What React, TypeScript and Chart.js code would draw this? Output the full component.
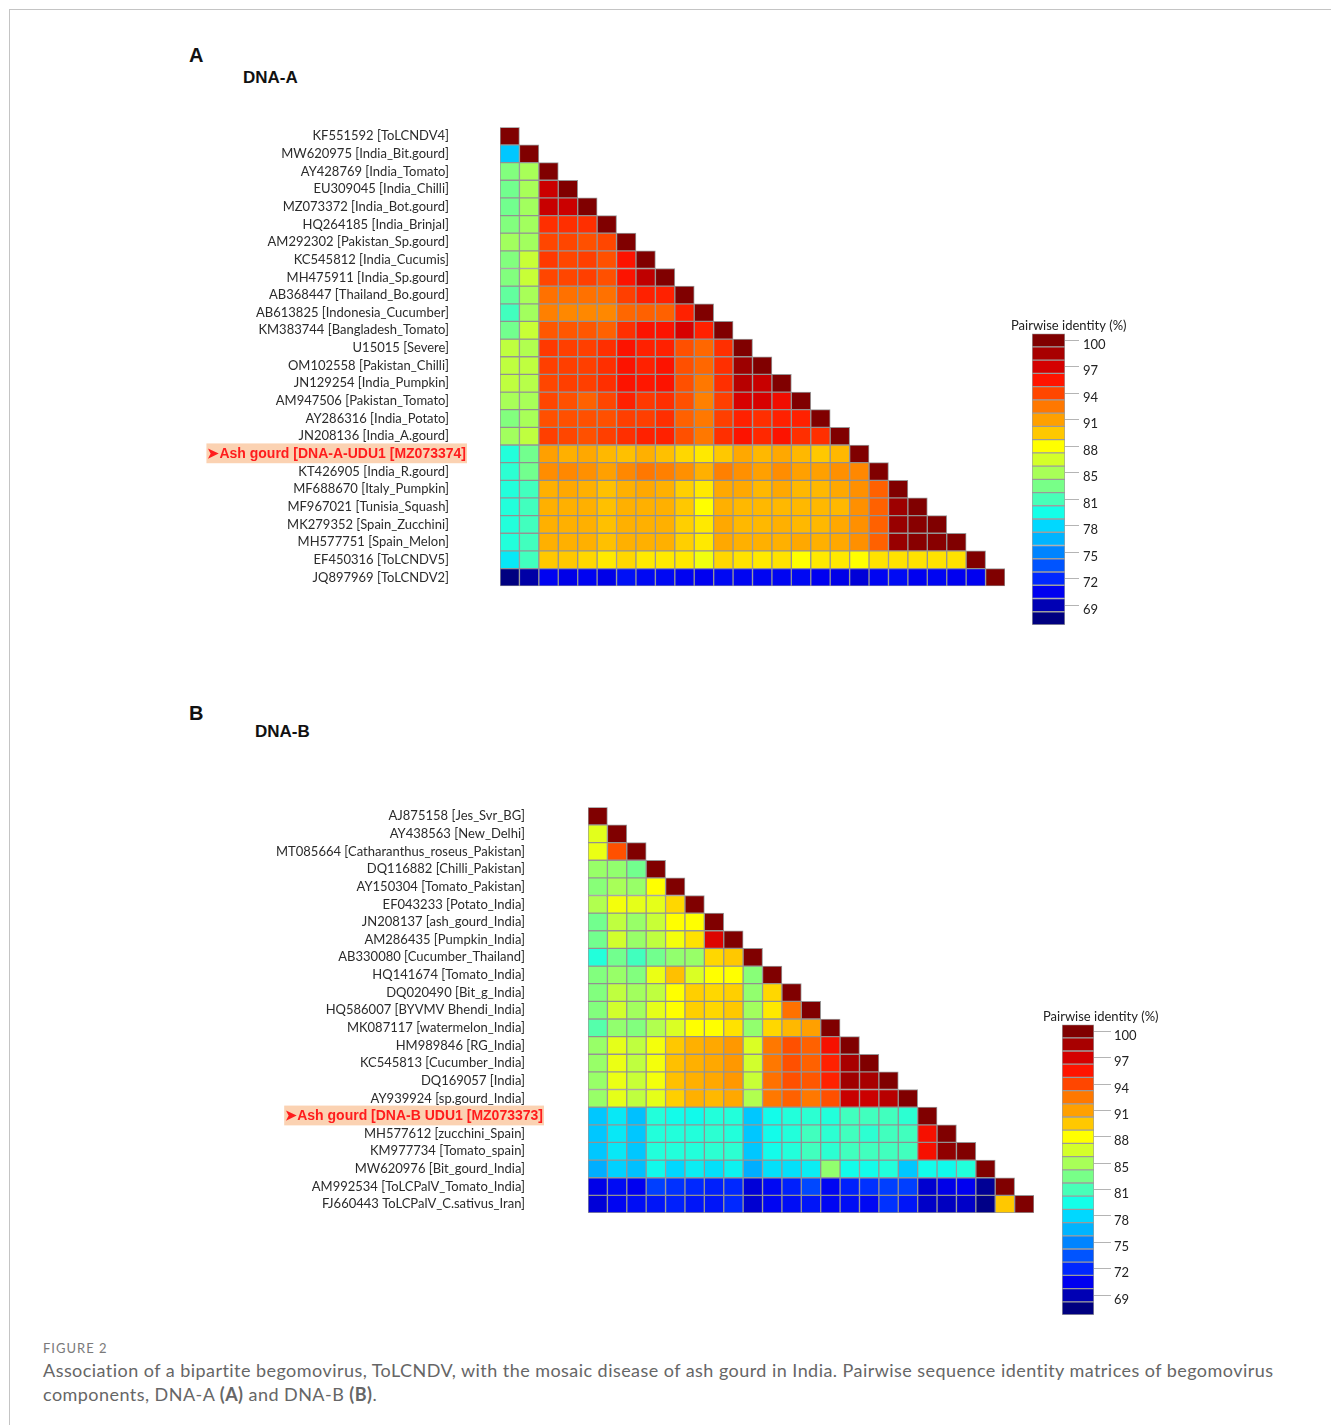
import React, { useEffect, useRef } from "react";
import { Chart, registerables } from "chart.js";
Chart.register(...registerables);

// ---------- DATA ----------
const labelsA = [
  "KF551592 [ToLCNDV4]",
  "MW620975 [India_Bit.gourd]",
  "AY428769 [India_Tomato]",
  "EU309045 [India_Chilli]",
  "MZ073372 [India_Bot.gourd]",
  "HQ264185 [India_Brinjal]",
  "AM292302 [Pakistan_Sp.gourd]",
  "KC545812 [India_Cucumis]",
  "MH475911 [India_Sp.gourd]",
  "AB368447 [Thailand_Bo.gourd]",
  "AB613825 [Indonesia_Cucumber]",
  "KM383744 [Bangladesh_Tomato]",
  "U15015 [Severe]",
  "OM102558 [Pakistan_Chilli]",
  "JN129254 [India_Pumpkin]",
  "AM947506 [Pakistan_Tomato]",
  "AY286316 [India_Potato]",
  "JN208136 [India_A.gourd]",
  "\u27A4Ash gourd [DNA-A-UDU1 [MZ073374]",
  "KT426905 [India_R.gourd]",
  "MF688670 [Italy_Pumpkin]",
  "MF967021 [Tunisia_Squash]",
  "MK279352 [Spain_Zucchini]",
  "MH577751 [Spain_Melon]",
  "EF450316 [ToLCNDV5]",
  "JQ897969 [ToLCNDV2]",
];
const highlightA = 18;

const identityA: number[][] = [
  [100],
  [78.3, 100],
  [83.8, 85.0, 100],
  [83.3, 85.0, 97.3, 100],
  [83.3, 84.8, 97.4, 97.3, 100],
  [83.8, 84.8, 94.7, 94.7, 94.7, 100],
  [84.8, 84.8, 94.0, 94.0, 93.7, 94.0, 100],
  [83.8, 86.1, 94.4, 94.0, 94.2, 93.7, 95.6, 100],
  [83.8, 86.1, 94.0, 94.0, 94.2, 93.7, 95.6, 97.7, 100],
  [82.8, 85.0, 92.7, 92.7, 92.7, 92.7, 94.2, 95.1, 95.1, 100],
  [81.8, 84.8, 92.2, 91.9, 91.9, 91.9, 93.0, 93.2, 93.2, 95.1, 100],
  [83.3, 86.1, 93.5, 93.5, 93.5, 93.2, 94.7, 95.6, 95.6, 96.9, 95.1, 100],
  [85.8, 85.3, 94.4, 94.2, 94.2, 94.7, 95.6, 95.1, 95.1, 93.7, 93.0, 94.7, 100],
  [85.8, 85.8, 94.2, 94.2, 94.2, 94.7, 95.6, 95.1, 95.6, 93.7, 93.0, 94.7, 98.9, 100],
  [85.8, 85.5, 94.0, 94.2, 94.2, 94.7, 95.6, 95.4, 95.6, 93.7, 92.5, 94.7, 98.0, 97.4, 100],
  [85.0, 85.0, 94.0, 93.7, 93.2, 94.0, 95.1, 94.4, 94.7, 93.7, 92.2, 94.2, 96.9, 96.9, 96.0, 100],
  [83.8, 85.0, 93.7, 93.7, 93.7, 93.7, 94.2, 94.2, 94.7, 93.2, 92.5, 94.2, 95.1, 94.7, 95.1, 95.1, 100],
  [84.8, 85.8, 94.2, 94.0, 93.7, 94.2, 94.7, 95.1, 95.1, 93.7, 92.5, 94.7, 95.6, 94.9, 95.6, 94.7, 94.7, 100],
  [80.9, 83.3, 91.0, 90.4, 90.7, 90.1, 89.8, 90.4, 89.8, 89.1, 88.6, 89.5, 90.7, 90.1, 90.7, 90.1, 89.5, 90.1, 100],
  [81.2, 83.3, 91.7, 91.9, 91.6, 91.0, 91.9, 92.5, 92.2, 91.6, 90.4, 92.2, 91.6, 91.0, 91.7, 91.0, 91.0, 91.6, 91.9, 100],
  [80.9, 81.8, 90.4, 90.7, 90.4, 89.8, 90.4, 90.7, 90.4, 89.3, 88.6, 90.7, 90.7, 90.1, 90.7, 90.1, 90.1, 90.7, 91.6, 93.2, 100],
  [80.9, 81.8, 90.4, 90.4, 90.4, 89.8, 90.4, 90.4, 90.4, 89.5, 88.0, 90.4, 90.1, 90.1, 90.1, 90.1, 90.1, 90.1, 91.6, 93.2, 98.9, 100],
  [80.9, 81.8, 90.4, 90.4, 90.4, 89.8, 90.4, 90.4, 90.4, 89.3, 88.6, 90.7, 90.1, 90.1, 90.4, 90.1, 90.1, 90.7, 91.6, 93.2, 99.1, 99.7, 100],
  [80.9, 81.8, 90.4, 90.4, 90.4, 89.8, 90.4, 90.4, 90.4, 89.3, 88.6, 90.7, 90.4, 90.4, 90.4, 90.7, 90.4, 90.7, 91.6, 93.2, 99.1, 99.7, 99.7, 100],
  [79.6, 81.8, 89.5, 89.5, 89.1, 88.6, 89.1, 88.6, 88.6, 88.6, 87.5, 89.1, 88.8, 88.6, 88.8, 88.0, 88.6, 88.6, 88.0, 88.8, 88.8, 88.8, 88.8, 88.8, 100],
  [68.5, 69.6, 71.6, 71.3, 71.6, 71.3, 72.1, 71.8, 71.8, 71.6, 71.5, 71.8, 71.7, 71.7, 71.7, 71.8, 71.5, 71.3, 70.9, 71.7, 71.9, 71.5, 71.7, 71.5, 71.5, 100],
];

const labelsB = [
  "AJ875158 [Jes_Svr_BG]",
  "AY438563 [New_Delhi]",
  "MT085664 [Catharanthus_roseus_Pakistan]",
  "DQ116882 [Chilli_Pakistan]",
  "AY150304 [Tomato_Pakistan]",
  "EF043233 [Potato_India]",
  "JN208137 [ash_gourd_India]",
  "AM286435 [Pumpkin_India]",
  "AB330080 [Cucumber_Thailand]",
  "HQ141674 [Tomato_India]",
  "DQ020490 [Bit_g_India]",
  "HQ586007 [BYVMV Bhendi_India]",
  "MK087117 [watermelon_India]",
  "HM989846 [RG_India]",
  "KC545813 [Cucumber_India]",
  "DQ169057 [India]",
  "AY939924 [sp.gourd_India]",
  "\u27A4Ash gourd [DNA-B UDU1 [MZ073373]",
  "MH577612 [zucchini_Spain]",
  "KM977734 [Tomato_spain]",
  "MW620976 [Bit_gourd_India]",
  "AM992534 [ToLCPalV_Tomato_India]",
  "FJ660443 ToLCPalV_C.sativus_Iran]",
];
const highlightB = 17;

const identityB: number[][] = [
  [100],
  [87.0, 100],
  [87.3, 93.7, 100],
  [84.5, 84.3, 83.3, 100],
  [84.0, 85.0, 84.5, 88.0, 100],
  [85.3, 87.6, 87.1, 87.1, 89.1, 100],
  [83.3, 85.8, 84.5, 86.1, 88.0, 88.0, 100],
  [83.3, 86.4, 84.5, 85.8, 87.6, 88.8, 96.7, 100],
  [80.9, 83.3, 81.8, 83.3, 84.3, 84.5, 89.1, 89.5, 100],
  [83.8, 84.5, 83.8, 87.3, 89.8, 86.7, 88.0, 88.0, 84.0, 100],
  [83.8, 85.8, 84.8, 85.8, 88.0, 89.3, 89.1, 89.3, 84.3, 89.1, 100],
  [83.8, 86.4, 84.8, 87.1, 88.0, 89.3, 89.1, 89.5, 84.8, 88.6, 92.7, 100],
  [82.4, 84.3, 83.8, 85.3, 86.7, 88.0, 88.0, 88.8, 84.3, 89.1, 90.1, 91.0, 100],
  [84.5, 87.1, 85.8, 87.6, 89.5, 90.4, 90.7, 91.3, 86.7, 92.5, 93.7, 93.2, 95.8, 100],
  [84.5, 87.3, 85.8, 87.6, 89.8, 90.4, 90.7, 91.3, 86.4, 92.5, 93.7, 93.2, 95.1, 98.5, 100],
  [84.5, 87.3, 86.1, 87.6, 89.8, 90.4, 90.7, 91.3, 86.1, 92.7, 93.7, 93.5, 95.1, 98.8, 98.5, 100],
  [84.5, 87.1, 85.8, 87.1, 89.3, 90.4, 90.1, 90.7, 85.3, 92.5, 93.2, 92.5, 93.7, 97.4, 97.3, 98.0, 100],
  [78.3, 79.6, 78.0, 80.9, 80.4, 80.3, 80.9, 80.9, 78.3, 80.4, 80.9, 81.2, 80.9, 81.8, 81.8, 81.8, 81.2, 100],
  [78.3, 79.6, 78.3, 80.9, 80.9, 80.9, 81.2, 80.9, 78.3, 80.4, 80.9, 81.8, 81.2, 81.8, 81.2, 81.8, 81.8, 95.8, 100],
  [78.3, 79.6, 78.3, 80.9, 80.9, 80.9, 81.2, 81.2, 78.3, 80.4, 80.9, 81.8, 81.2, 81.8, 81.8, 81.8, 81.8, 95.8, 99.4, 100],
  [77.3, 78.7, 78.0, 80.3, 79.0, 79.8, 79.3, 80.0, 77.3, 79.3, 79.3, 79.8, 84.3, 80.4, 80.4, 80.9, 78.3, 80.4, 80.3, 80.9, 100],
  [71.3, 71.9, 71.5, 73.8, 73.3, 73.0, 72.7, 73.0, 70.9, 71.8, 72.7, 74.1, 71.7, 72.7, 73.3, 73.8, 73.8, 70.7, 71.3, 71.5, 69.1, 100],
  [70.9, 71.7, 72.0, 72.3, 72.7, 72.3, 72.3, 73.0, 70.7, 71.7, 72.0, 72.3, 71.7, 72.0, 71.8, 73.3, 72.3, 70.5, 70.3, 70.5, 68.7, 89.5, 100],
];

// colour scale levels (identity %) and the tick labels printed on the colour bar
const scaleLevels = [100, 98.5, 97, 95.5, 94, 92.5, 91, 89.5, 88, 86.5, 85, 83.5, 82, 80.5, 79, 77.5, 76, 74.5, 73, 71.5, 70, 68.5];
const scaleTickLabels = ["100", "97", "94", "91", "88", "85", "81", "78", "75", "72", "69"];

// ---------- STYLE ----------
const levelColors = [
  "#800000", "#a80000", "#d40000", "#ff1400", "#ff4600", "#ff7800", "#ffa000", "#ffc800",
  "#ffff00", "#d4ff2a", "#a8ff58", "#78ff88", "#48ffb8", "#14ffe8", "#00d8ff", "#00b4ff",
  "#0084ff", "#0054ff", "#0028ff", "#0000f0", "#0000b4", "#000080",
];

const HL_FAMILY = "'Liberation Sans', Arial, sans-serif";
const HL_SIZE = 14;

function hexRgb(h: string) {
  return [parseInt(h.slice(1, 3), 16), parseInt(h.slice(3, 5), 16), parseInt(h.slice(5, 7), 16)];
}

function colorFor(v: number) {
  const n = scaleLevels.length;
  if (v >= scaleLevels[0]) return levelColors[0];
  if (v <= scaleLevels[n - 1]) return levelColors[n - 1];
  for (let k = 0; k < n - 1; k++) {
    const hi = scaleLevels[k];
    const lo = scaleLevels[k + 1];
    if (v <= hi && v >= lo) {
      const f = (hi - v) / (hi - lo);
      const a = hexRgb(levelColors[k]);
      const b = hexRgb(levelColors[k + 1]);
      const c = a.map((x, i) => Math.round(x + (b[i] - x) * f));
      return `rgb(${c[0]},${c[1]},${c[2]})`;
    }
  }
  return levelColors[n - 1];
}

type Box = { left: number; top: number; width: number; height: number };
type Area = { left: number; right: number; top: number; bottom: number };

function noPad(s: any) {
  s.paddingTop = 0;
  s.paddingBottom = 0;
  s.paddingLeft = 0;
  s.paddingRight = 0;
}

function Matrix(props: {
  labels: string[];
  values: number[][];
  highlight: number;
  box: Box;
  area: Area;
  labelPad: number;
  hlRight: number;
}) {
  const ref = useRef<HTMLCanvasElement>(null);
  const { labels, values, highlight, box, area, labelPad, hlRight } = props;
  useEffect(() => {
    const n = labels.length;
    const cols = labels.map((_, j) => String(j));
    const datasets = values.map((row, i) => ({
      label: labels[i],
      data: cols.map((_, j) => (j < row.length ? [i - 0.5, i + 0.5] : null)),
      backgroundColor: cols.map((_, j) => (j < row.length ? colorFor(row[j]) : "rgba(0,0,0,0)")),
      borderColor: "rgba(140,140,140,0.9)",
      borderWidth: 1,
      borderSkipped: false,
      grouped: false,
      categoryPercentage: 1,
      barPercentage: 1,
      xAxisID: "x",
      yAxisID: "y",
    }));
    const normalTicks = labels.map((_, i) => i).filter((i) => i !== highlight);

    // width of the highlighted label, so that it can be right-aligned at hlRight
    const mctx = document.createElement("canvas").getContext("2d") as CanvasRenderingContext2D;
    mctx.font = `bold ${HL_SIZE}px ${HL_FAMILY}`;
    const hlWidth = mctx.measureText(labels[highlight]).width;
    const hlPad = hlRight - hlWidth - area.left;

    const chart = new Chart(ref.current as HTMLCanvasElement, {
      type: "bar",
      data: { labels: cols, datasets: datasets as any },
      options: {
        animation: false,
        responsive: false,
        maintainAspectRatio: false,
        events: [],
        layout: {
          padding: {
            left: 0,
            right: box.left + box.width - area.right,
            top: area.top - box.top,
            bottom: box.top + box.height - area.bottom,
          },
        },
        plugins: { legend: { display: false }, tooltip: { enabled: false }, title: { display: false } },
        scales: {
          x: { type: "category", display: false },
          y: {
            type: "linear",
            position: "left",
            reverse: true,
            min: -0.5,
            max: n - 0.5,
            bounds: "data",
            weight: 1,
            grid: { display: false, drawTicks: false },
            border: { display: false },
            afterBuildTicks: (s: any) => {
              s.ticks = normalTicks.map((v) => ({ value: v }));
            },
            afterFit: (s: any) => {
              s.width = area.left - box.left;
              noPad(s);
            },
            ticks: {
              autoSkip: false,
              padding: labelPad,
              font: { family: "Lato", size: 13 },
              color: "#2b2b2b",
              callback: (v: any) => labels[Number(v)] ?? "",
            },
          },
          y2: {
            type: "linear",
            position: "left",
            reverse: true,
            min: -0.5,
            max: n - 0.5,
            bounds: "data",
            weight: 0,
            grid: { display: false, drawTicks: false },
            border: { display: false },
            afterBuildTicks: (s: any) => {
              s.ticks = [{ value: highlight }];
            },
            afterFit: (s: any) => {
              s.width = 0;
              noPad(s);
            },
            ticks: {
              autoSkip: false,
              mirror: true,
              crossAlign: "near",
              padding: hlPad,
              font: { family: HL_FAMILY, size: HL_SIZE, weight: "bold" },
              color: "#ff1c1c",
              showLabelBackdrop: true,
              backdropColor: "#fbd2b2",
              backdropPadding: { top: 2, bottom: 1, left: 1, right: 1 },
              callback: () => labels[highlight],
            } as any,
          },
        },
      } as any,
    });
    return () => chart.destroy();
  }, []);
  return (
    <canvas
      ref={ref}
      width={box.width}
      height={box.height}
      style={{ position: "absolute", left: box.left, top: box.top, width: box.width, height: box.height }}
    />
  );
}

function ColorBar(props: {
  box: Box;
  barLeft: number;
  barRight: number;
  barBottom: number;
  tickLen: number;
  tickPad: number;
}) {
  const ref = useRef<HTMLCanvasElement>(null);
  const { box, barLeft, barRight, barBottom, tickLen, tickPad } = props;
  useEffect(() => {
    const chart = new Chart(ref.current as HTMLCanvasElement, {
      type: "bar",
      data: {
        labels: scaleLevels.map(String),
        datasets: [
          {
            data: scaleLevels.map(() => 1),
            backgroundColor: scaleLevels.map((v) => colorFor(v)),
            borderColor: "rgba(150,150,150,0.9)",
            borderWidth: 1,
            borderSkipped: false,
            categoryPercentage: 1,
            barPercentage: 1,
            xAxisID: "x",
            yAxisID: "y",
          } as any,
        ],
      },
      options: {
        indexAxis: "y",
        animation: false,
        responsive: false,
        maintainAspectRatio: false,
        events: [],
        layout: { padding: { left: 0, right: 0, top: 0, bottom: box.top + box.height - barBottom } },
        plugins: {
          legend: { display: false },
          tooltip: { enabled: false },
          title: {
            display: true,
            text: "Pairwise identity (%)",
            align: "start",
            color: "#222",
            font: { family: "Lato", size: 13, weight: "normal" },
            padding: { top: 2, bottom: 0 },
          },
        },
        scales: {
          x: { type: "linear", display: false, min: 0, max: 1 },
          y: {
            type: "category",
            position: "right",
            grid: {
              display: true,
              drawOnChartArea: false,
              drawTicks: true,
              offset: false,
              tickLength: tickLen,
              lineWidth: 1,
              color: (ctx: any) => (ctx.index % 2 === 0 ? "#b4b4b4" : "rgba(0,0,0,0)"),
            },
            border: { display: false },
            afterFit: (s: any) => {
              s.width = box.left + box.width - barRight;
              noPad(s);
            },
            ticks: {
              autoSkip: false,
              padding: tickPad,
              labelOffset: 4.5,
              color: "#222",
              font: { family: "Lato", size: 13 },
              callback: (_v: any, i: number) => (i % 2 === 0 ? scaleTickLabels[i / 2] : ""),
            },
          },
          yl: {
            type: "linear",
            position: "left",
            min: 0,
            max: 1,
            grid: { display: false, drawTicks: false },
            border: { display: false },
            ticks: { display: false },
            afterFit: (s: any) => {
              s.width = barLeft - box.left;
              noPad(s);
            },
          },
        },
      } as any,
    });
    return () => chart.destroy();
  }, []);
  return (
    <canvas
      ref={ref}
      width={box.width}
      height={box.height}
      style={{ position: "absolute", left: box.left, top: box.top, width: box.width, height: box.height }}
    />
  );
}

const boldHead = "'Liberation Sans', Arial, sans-serif";

export default function App() {
  return (
    <div style={{ position: "absolute", left: 0, top: 0, width: 1331, height: 1425, background: "#fff", overflow: "hidden" }}>
      <div
        style={{
          position: "absolute",
          left: 9,
          top: 9,
          width: 1322,
          height: 1416,
          boxSizing: "border-box",
          borderTop: "1px solid #c4c4c4",
          borderLeft: "1px solid #c4c4c4",
        }}
      />
      <div style={{ position: "absolute", left: 189, top: 45, font: `bold 20px ${boldHead}`, lineHeight: "20px", color: "#111" }}>A</div>
      <div style={{ position: "absolute", left: 243, top: 69, font: `bold 17px ${boldHead}`, lineHeight: "17px", color: "#111" }}>DNA-A</div>
      <div style={{ position: "absolute", left: 189, top: 703, font: `bold 20px ${boldHead}`, lineHeight: "20px", color: "#111" }}>B</div>
      <div style={{ position: "absolute", left: 255, top: 723, font: `bold 17px ${boldHead}`, lineHeight: "17px", color: "#111" }}>DNA-B</div>

      <Matrix
        labels={labelsA}
        values={identityA}
        highlight={highlightA}
        box={{ left: 150, top: 110, width: 870, height: 490 }}
        area={{ left: 500, right: 1005, top: 127.3, bottom: 586.2 }}
        labelPad={51}
        hlRight={466}
      />
      <ColorBar box={{ left: 1011, top: 316, width: 130, height: 316 }} barLeft={1032} barRight={1065} barBottom={625} tickLen={14} tickPad={4} />

      <Matrix
        labels={labelsB}
        values={identityB}
        highlight={highlightB}
        box={{ left: 200, top: 790, width: 850, height: 440 }}
        area={{ left: 588, right: 1034, top: 807.3, bottom: 1213 }}
        labelPad={63}
        hlRight={543}
      />
      <ColorBar box={{ left: 1043, top: 1007, width: 125, height: 318 }} barLeft={1062} barRight={1094} barBottom={1315} tickLen={17} tickPad={3} />

      <div style={{ position: "absolute", left: 43, top: 1340, font: "13px Lato, sans-serif", lineHeight: "16px", color: "#7a7a7a", letterSpacing: "1px" }}>
        FIGURE 2
      </div>
      <div
        style={{
          position: "absolute",
          left: 43,
          top: 1358,
          width: 1280,
          font: "18px Lato, sans-serif",
          lineHeight: "24px",
          letterSpacing: "0.45px",
          color: "#666",
          whiteSpace: "nowrap",
        }}
      >
        Association of a bipartite begomovirus, ToLCNDV, with the mosaic disease of ash gourd in India. Pairwise sequence identity matrices of begomovirus
        <br />
        components, DNA-A <b>(A)</b> and DNA-B <b>(B)</b>.
      </div>
    </div>
  );
}
